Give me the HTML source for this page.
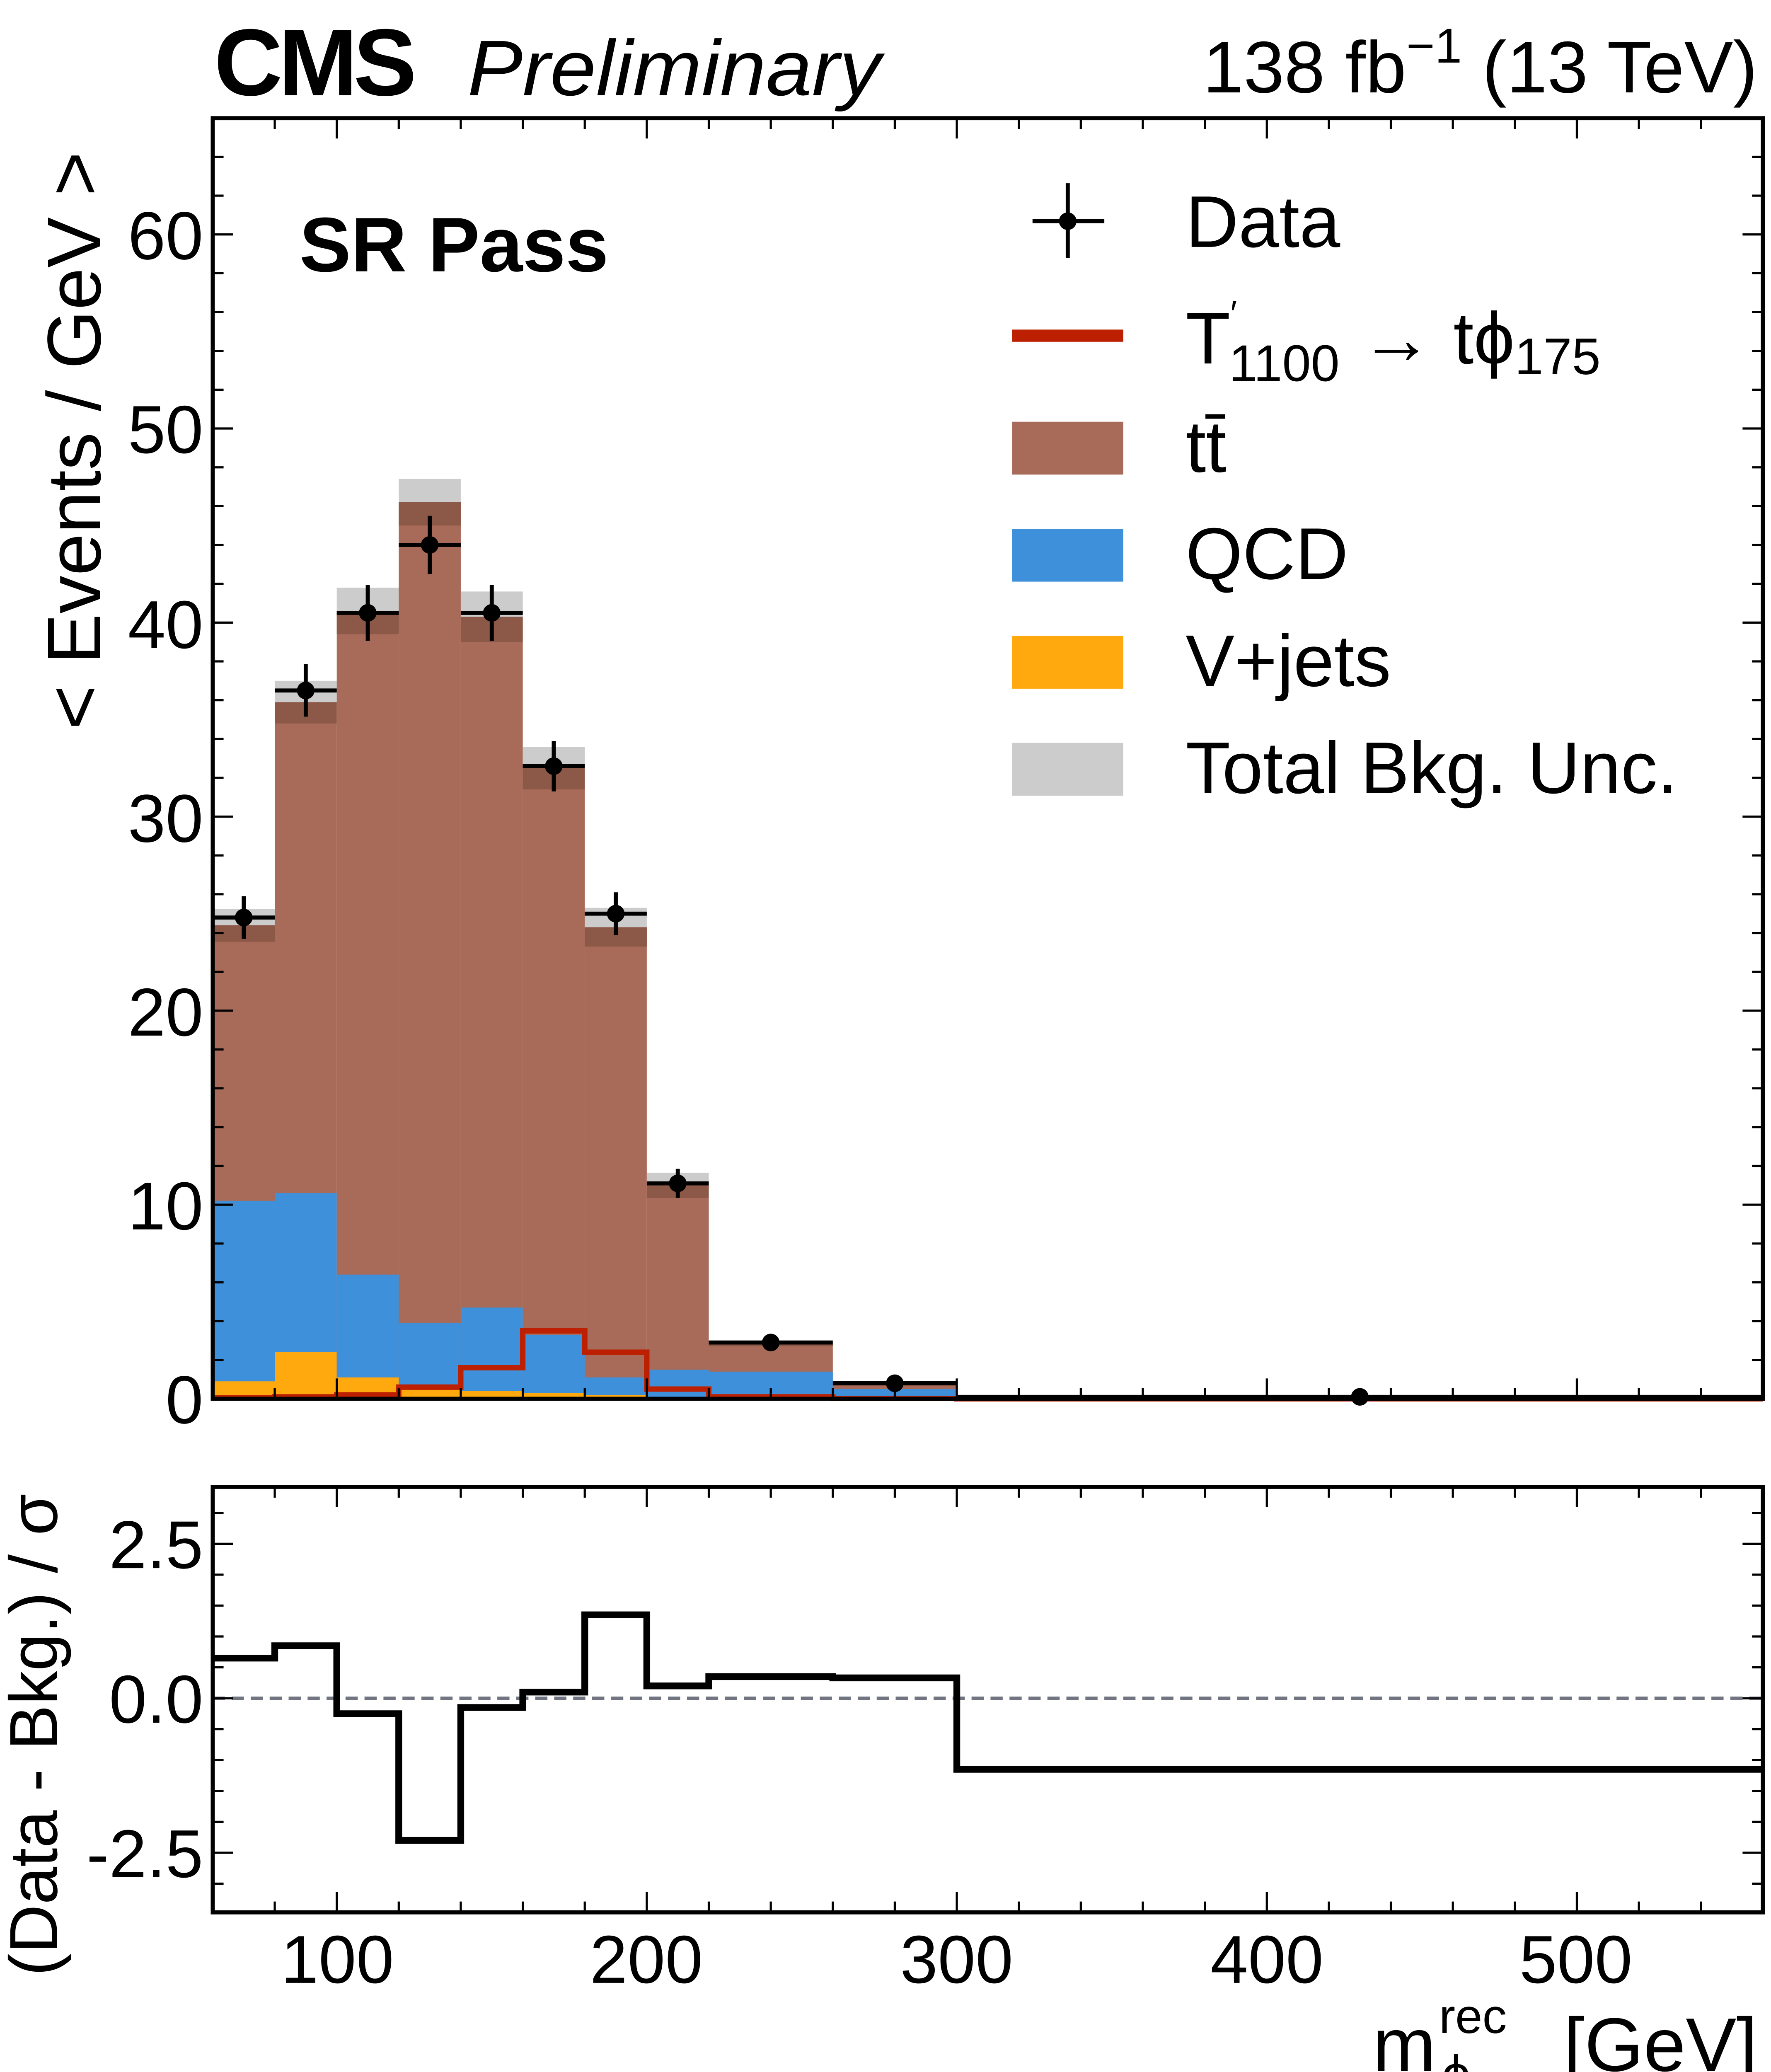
<!DOCTYPE html>
<html><head><meta charset="utf-8"><style>
html,body{margin:0;padding:0;background:#fff;overflow:hidden;width:4274px;height:5106px;}
svg{display:block;}
text{font-family:"Liberation Sans",sans-serif;}
</style></head><body>
<svg id="s" width="4274" height="5106" viewBox="0 0 1307 1561" xmlns="http://www.w3.org/2000/svg">
<rect width="1307" height="1561" fill="#fff"/>
<g id="g"></g>
<text x="158" y="70" font-size="70" font-weight="bold" letter-spacing="-3">CMS</text>
<text x="345" y="70" font-size="58" font-style="italic" textLength="305" lengthAdjust="spacingAndGlyphs">Preliminary</text>
<text x="1297" y="68" font-size="54" text-anchor="end">138 fb<tspan dy="-22" font-size="36">−1</tspan><tspan dy="22"> (13 TeV)</tspan></text>
<text x="221" y="200" font-size="57" font-weight="bold">SR Pass</text>
<text x="875" y="182" font-size="54">Data</text>
<text x="875" y="268" font-size="54">T<tspan dy="-28" font-size="26">′</tspan><tspan dx="-6" dy="41" font-size="38">1100</tspan><tspan dy="-13"> → tϕ</tspan><tspan dy="8" font-size="38">175</tspan></text>
<text x="875" y="348" font-size="54">tt̄</text>
<text x="875" y="427" font-size="54">QCD</text>
<text x="875" y="506" font-size="54">V+jets</text>
<text x="875" y="585" font-size="54">Total Bkg. Unc.</text>
<g font-size="50" text-anchor="end">
<text x="150" y="1050">0</text><text x="150" y="907">10</text><text x="150" y="764">20</text><text x="150" y="621">30</text><text x="150" y="478">40</text><text x="150" y="334">50</text><text x="150" y="191">60</text>
<text x="150" y="1157">2.5</text><text x="150" y="1271">0.0</text><text x="150" y="1385">-2.5</text>
</g>
<g font-size="50" text-anchor="middle">
<text x="249" y="1463">100</text><text x="477" y="1463">200</text><text x="706" y="1463">300</text><text x="935" y="1463">400</text><text x="1163" y="1463">500</text>
</g>
<text x="1013" y="1528" font-size="56">m</text>
<text x="1062" y="1500" font-size="36">rec</text>
<text x="1064" y="1543" font-size="38">ϕ</text>
<text x="1297" y="1528" font-size="56" text-anchor="end">[GeV]</text>
<text transform="translate(74,325) rotate(-90)" font-size="56" text-anchor="middle">&lt; Events / GeV &gt;</text>
<text transform="translate(42,1280) rotate(-90)" font-size="50" text-anchor="middle">(Data - Bkg.) / σ</text>
</svg>
<script>
(function(){
var g=document.getElementById('g'),h='';
function X(v){return 157+(v-60)*2.288;}
function Y(v){return 1032-v*14.32;}
function R(v){return 1253-v*45.6;}
function rect(x1,y1,x2,y2,c){h+='<rect x="'+Math.min(x1,x2)+'" y="'+Math.min(y1,y2)+'" width="'+Math.abs(x2-x1)+'" height="'+Math.abs(y2-y1)+'" fill="'+c+'"/>';}
function line(x1,y1,x2,y2,w,c,extra){h+='<line x1="'+x1+'" y1="'+y1+'" x2="'+x2+'" y2="'+y2+'" stroke="'+(c||'#000')+'" stroke-width="'+w+'" '+(extra||'')+'/>';}
var e=[60,80,100,120,140,160,180,200,220,260,300,560];
var tot=[24.4,35.9,40.6,46.2,40.3,32.5,24.3,11.0,2.8,0.7,0.03];
var sg=[0.85,1.1,1.2,1.2,1.3,1.1,1.0,0.65,0.1,0.05,0.01];
var qcd=[10.2,10.6,6.4,3.9,4.7,3.3,1.1,1.5,1.4,0.5,0.02];
var vj=[0.9,2.4,1.1,0.5,0.4,0.3,0.2,0.1,0.1,0.05,0];
var sig=[0.05,0.1,0.2,0.6,1.6,3.5,2.4,0.5,0.1,0.02,0];
var dat=[24.8,36.5,40.5,44.0,40.5,32.6,25.0,11.1,2.9,0.8,0.1];
var der=[1.1,1.35,1.45,1.5,1.45,1.3,1.1,0.75,0.27,0.14,0.02];
var rat=[0.65,0.85,-0.25,-2.3,-0.15,0.1,1.35,0.2,0.35,0.33,-1.15];
for(var i=0;i<11;i++){
 var a=X(e[i]),b=X(e[i+1]);
 rect(a,Y(0),b,Y(tot[i]),'#a96b59');
 rect(a,Y(0),b,Y(qcd[i]),'#3f90da');
 rect(a,Y(0),b,Y(vj[i]),'#ffa90e');
 rect(a,Y(tot[i]),b,Y(tot[i]+sg[i]),'#cccccc');
 rect(a,Y(tot[i]-sg[i]),b,Y(tot[i]),'#8c5847');
}
var p='M'+X(60)+' '+Y(sig[0]);
for(var i=0;i<11;i++){p+=' L'+X(e[i])+' '+Y(sig[i])+' L'+X(e[i+1])+' '+Y(sig[i]);}
h+='<path d="'+p+'" fill="none" stroke="#bd1f01" stroke-width="4"/>';
for(var i=0;i<11;i++){
 var a=X(e[i]),b=X(e[i+1]),c=(a+b)/2;
 line(a,Y(dat[i]),b,Y(dat[i]),3);
 line(c,Y(dat[i]-der[i]),c,Y(dat[i]+der[i]),3);
 h+='<circle cx="'+c+'" cy="'+Y(dat[i])+'" r="6.5" fill="#000"/>';
}
line(157,R(0),1301,R(0),2.5,'#717581','stroke-dasharray="9,5"');
var q='M'+X(60)+' '+R(rat[0]);
for(var i=0;i<11;i++){q+=' L'+X(e[i])+' '+R(rat[i])+' L'+X(e[i+1])+' '+R(rat[i]);}
h+='<path d="'+q+'" fill="none" stroke="#000" stroke-width="5"/>';
function xt(top,bot){for(var v=60;v<=560;v+=20){var L=(v%100==0)?15:8;line(X(v),top,X(v),top+L,1.6);line(X(v),bot,X(v),bot-L,1.6);}}
xt(87,1032);xt(1097,1411);
for(var v=0;v<=66;v+=2){var L=(v%10==0)?15:8;line(157,Y(v),157+L,Y(v),1.6);line(1301,Y(v),1301-L,Y(v),1.6);}
for(var v=-3.5;v<=3.5;v+=0.5){var L=(Math.abs(v%2.5)<1e-6)?15:8;var yy=R(v);if(yy<1097||yy>1411)continue;line(157,yy,157+L,yy,1.6);line(1301,yy,1301-L,yy,1.6);}
h+='<rect x="157" y="87" width="1144" height="945" fill="none" stroke="#000" stroke-width="3"/>';
h+='<rect x="157" y="1097" width="1144" height="314" fill="none" stroke="#000" stroke-width="3"/>';
line(762,163,815,163,3);line(788,135,788,190,3);h+='<circle cx="788" cy="163" r="6.5" fill="#000"/>';
rect(747,243,829,252,'#bd1f01');
rect(747,311,829,350,'#a96b59');
rect(747,390,829,429,'#3f90da');
rect(747,469,829,508,'#ffa90e');
rect(747,548,829,587,'#cccccc');
g.innerHTML=h;
})();
</script>
</body></html>
